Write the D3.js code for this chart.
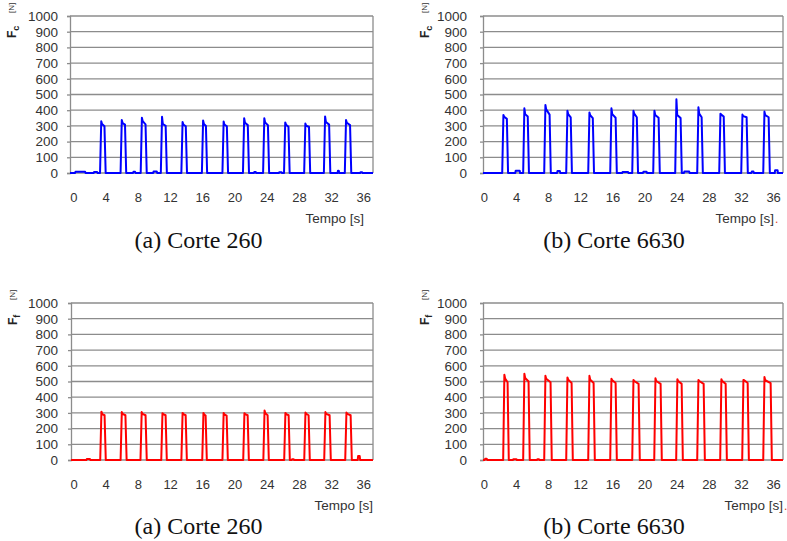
<!DOCTYPE html>
<html>
<head>
<meta charset="utf-8">
<script src="https://cdn.jsdelivr.net/npm/d3@7/dist/d3.min.js"></script>
<style>
  html, body { margin: 0; padding: 0; background: #fff; }
  svg { display: block; }
</style>
</head>
<body>
<svg id="chart" width="787" height="541"></svg>
<script>
// ---- axis ticks ----
const yTicks = [0, 100, 200, 300, 400, 500, 600, 700, 800, 900, 1000];
const xTicks = [0, 4, 8, 12, 16, 20, 24, 28, 32, 36];

// ---- trace span (s) ----
const traceSpan = [-0.5, 37.4];

// ---- (a) Corte 260, cutting force Fc [N] ----
const fc260On    = [3.30, 5.85, 8.35, 10.85, 13.40, 15.95, 18.50, 21.05, 23.55, 26.15, 28.65, 31.10, 33.70];
const fc260Off   = [4.00, 6.55, 9.10, 11.60, 14.10, 16.60, 19.20, 21.80, 24.30, 26.85, 29.40, 31.90, 34.50];
const fc260Peak  = [330, 338, 352, 358, 325, 334, 328, 349, 349, 322, 315, 360, 338];
const fc260Plat  = [312, 318, 330, 312, 308, 312, 308, 320, 322, 308, 302, 325, 320];
const fc260Tail  = [298, 308, 310, 300, 298, 300, 298, 305, 305, 295, 293, 308, 305];
const fc260Blips = [[0.2, 1.5, 8], [2.5, 3.0, 6], [7.4, 7.7, 8], [9.9, 10.4, 10], [22.4, 22.7, 6], [25.5, 25.9, 5], [32.8, 33.0, 15], [35.6, 35.9, 5]];

// ---- (b) Corte 6630, cutting force Fc [N] ----
const fc6630On    = [2.27, 4.88, 7.50, 10.24, 12.98, 15.72, 18.46, 21.07, 23.81, 26.55, 29.29, 32.03, 34.77];
const fc6630Off   = [3.00, 5.60, 8.32, 10.95, 13.70, 16.54, 19.18, 21.89, 24.63, 27.25, 30.00, 32.85, 35.59];
const fc6630Peak  = [370, 412, 433, 397, 385, 412, 397, 397, 469, 418, 378, 372, 391];
const fc6630Plat  = [358, 375, 405, 375, 368, 375, 378, 370, 370, 378, 372, 362, 368];
const fc6630Tail  = [345, 360, 372, 355, 350, 352, 355, 352, 350, 355, 360, 355, 355];
const fc6630Blips = [[3.9, 4.5, 15], [9.1, 9.5, 12], [17.2, 18.0, 6], [19.8, 20.3, 8], [24.9, 25.6, 10], [33.3, 33.6, 10], [36.2, 36.6, 18]];

// ---- (a) Corte 260, feed force Ff [N] ----
const ff260On    = [3.32, 5.85, 8.32, 10.90, 13.40, 15.99, 18.50, 21.08, 23.58, 26.17, 28.66, 31.14, 33.75];
const ff260Off   = [4.01, 6.60, 9.10, 11.59, 14.08, 16.56, 19.17, 21.78, 24.26, 26.87, 29.35, 31.96, 34.57];
const ff260Peak  = [308, 305, 305, 298, 300, 300, 300, 298, 315, 300, 302, 305, 302];
const ff260Plat  = [292, 294, 294, 292, 292, 290, 290, 292, 298, 292, 294, 294, 294];
const ff260Tail  = [285, 285, 285, 285, 285, 283, 283, 285, 285, 285, 285, 285, 285];
const ff260Blips = [[1.6, 2.1, 6], [27.1, 27.4, 5], [35.3, 35.6, 25]];

// ---- (b) Corte 6630, feed force Ff [N] ----
const ff6630On    = [2.39, 4.88, 7.50, 10.24, 12.98, 15.72, 18.46, 21.20, 23.93, 26.55, 29.41, 32.15, 34.77];
const ff6630Off   = [3.09, 5.70, 8.44, 11.06, 13.80, 16.54, 19.40, 22.14, 24.76, 27.50, 30.24, 32.98, 35.84];
const ff6630Peak  = [543, 549, 536, 526, 536, 517, 510, 521, 515, 510, 515, 510, 528];
const ff6630Plat  = [518, 522, 518, 512, 512, 508, 503, 503, 503, 503, 503, 508, 508];
const ff6630Tail  = [495, 500, 495, 490, 490, 490, 485, 485, 485, 485, 485, 490, 490];
const ff6630Blips = [[0.1, 0.4, 8], [3.6, 4.1, 5], [6.6, 6.9, 5]];

const captions = ["(a) Corte 260", "(b) Corte 6630"];

// ---- layout ----
const RISE = 0.15;          // rise / fall time of each cut (s)
const panels = [
  { x0: 70,  x1: 373, y0: 16,  y1: 173, tMin: -0.43, tMax: 37.2,  pad: 9,  tempoDx: -9, dot: false,
    sub: "c", color: "#0000ff", on: fc260On, off: fc260Off, peak: fc260Peak, plat: fc260Plat, tail: fc260Tail, blips: fc260Blips },
  { x0: 483, x1: 783, y0: 16,  y1: 173, tMin: -0.12, tMax: 37.23, pad: 13, tempoDx: -9, dot: true,
    sub: "c", color: "#0000ff", on: fc6630On, off: fc6630Off, peak: fc6630Peak, plat: fc6630Plat, tail: fc6630Tail, blips: fc6630Blips },
  { x0: 71,  x1: 373, y0: 303, y1: 460, tMin: -0.31, tMax: 37.2,  pad: 10, tempoDx: 0,  dot: false,
    sub: "f", color: "#ff0000", on: ff260On, off: ff260Off, peak: ff260Peak, plat: ff260Plat, tail: ff260Tail, blips: ff260Blips },
  { x0: 483, x1: 783, y0: 303, y1: 460, tMin: -0.12, tMax: 37.23, pad: 13, tempoDx: 0,  dot: true,
    sub: "f", color: "#ff0000", on: ff6630On, off: ff6630Off, peak: ff6630Peak, plat: ff6630Plat, tail: ff6630Tail, blips: ff6630Blips }
];

const svg = d3.select("#chart");
const SANS = '"Liberation Sans"';
const SERIF = '"Liberation Serif"';
const GRID = "#8c8c8c";
const TXT = "#333";

function tracePoints(p) {
  const pts = [[traceSpan[0], 0], [traceSpan[1], 0]];
  p.blips.forEach(([a, b, v]) => pts.push([a, 0], [a + 0.05, v], [b - 0.05, v], [b, 0]));
  p.on.forEach((t0, i) => {
    const t1 = p.off[i];
    pts.push([t0, 0], [t0 + RISE, p.peak[i]], [t0 + RISE + 0.1, p.plat[i]], [t1 - RISE, p.tail[i]], [t1, 0]);
  });
  return pts.sort((a, b) => a[0] - b[0]);
}

panels.forEach((p, k) => {
  const x = d3.scaleLinear().domain([p.tMin, p.tMax]).range([p.x0, p.x1]);
  const y = d3.scaleLinear().domain([0, 1000]).range([p.y1, p.y0]);
  const g = svg.append("g");

  // horizontal grid
  g.append("g").selectAll("line").data(yTicks).join("line")
    .attr("x1", p.x0).attr("x2", p.x1)
    .attr("y1", d => y(d)).attr("y2", d => y(d))
    .attr("stroke", GRID).attr("stroke-width", 1.3);
  // right border
  g.append("line").attr("x1", p.x1).attr("x2", p.x1).attr("y1", p.y0).attr("y2", p.y1)
    .attr("stroke", GRID).attr("stroke-width", 1.3);

  // y axis
  const ya = g.append("g").attr("transform", `translate(${p.x0},0)`)
    .call(d3.axisLeft(y).tickValues(yTicks).tickFormat(d3.format("d")).tickSize(3).tickPadding(p.pad));
  ya.attr("font-family", null).attr("font-size", null);
  ya.select(".domain").attr("stroke", GRID).attr("stroke-width", 1.3);
  ya.selectAll(".tick line").attr("stroke", GRID).attr("stroke-width", 1.3);
  ya.selectAll(".tick text").style("font-family", SANS).style("font-size", "13.5px").attr("fill", TXT);

  // x axis labels
  const xa = g.append("g").attr("transform", `translate(0,${p.y1})`)
    .call(d3.axisBottom(x).tickValues(xTicks).tickFormat(d3.format("d")).tickSize(0).tickPadding(19.5));
  xa.attr("font-family", null).attr("font-size", null);
  xa.select(".domain").remove();
  xa.selectAll(".tick text").style("font-family", SANS).style("font-size", "13px").attr("fill", TXT);

  // axis titles
  g.append("text").attr("x", p.x1 + p.tempoDx).attr("y", p.y1 + 49.5)
    .attr("text-anchor", "end").style("font-family", SANS).style("font-size", "13.5px").attr("fill", TXT)
    .text("Tempo [s]");
  if (p.dot) {
    g.append("text").attr("x", p.x1 + p.tempoDx + 1).attr("y", p.y1 + 49.5)
      .style("font-family", SANS).style("font-size", "12px").attr("fill", "#e0401c").text(".");
  }
  const yt = g.append("text")
    .attr("transform", `translate(${p.x0 - 54},${p.y0 + 22}) rotate(-90)`)
    .style("font-family", SANS).attr("font-weight", "bold").attr("fill", "#222");
  yt.append("tspan").style("font-size", "12px").text("F");
  yt.append("tspan").style("font-size", "9px").attr("dy", 3).text(p.sub);
  g.append("text")
    .attr("transform", `translate(${p.x0 - 56},${p.y0 - 3}) rotate(-90)`)
    .style("font-family", SANS).style("font-size", "8px").attr("fill", "#333")
    .text("[N]");

  // force trace
  const clipId = "clip" + k;
  svg.append("clipPath").attr("id", clipId).append("rect")
    .attr("x", p.x0).attr("y", p.y0 - 5).attr("width", p.x1 - p.x0).attr("height", p.y1 - p.y0 + 6);
  const line = d3.line().x(d => x(d[0])).y(d => y(d[1]));
  g.append("path").attr("clip-path", `url(#${clipId})`)
    .attr("d", line(tracePoints(p)))
    .attr("fill", "none").attr("stroke", p.color).attr("stroke-width", 2)
    .attr("stroke-linejoin", "round");
});

// sub-figure captions
const capX = [198.5, 614];
const capY = [248, 534];
capY.forEach(cy => {
  captions.forEach((c, i) => {
    svg.append("text").attr("x", capX[i]).attr("y", cy).attr("text-anchor", "middle")
      .style("font-family", SERIF).style("font-size", "24px").attr("fill", "#111").text(c);
  });
});
</script>
</body>
</html>
